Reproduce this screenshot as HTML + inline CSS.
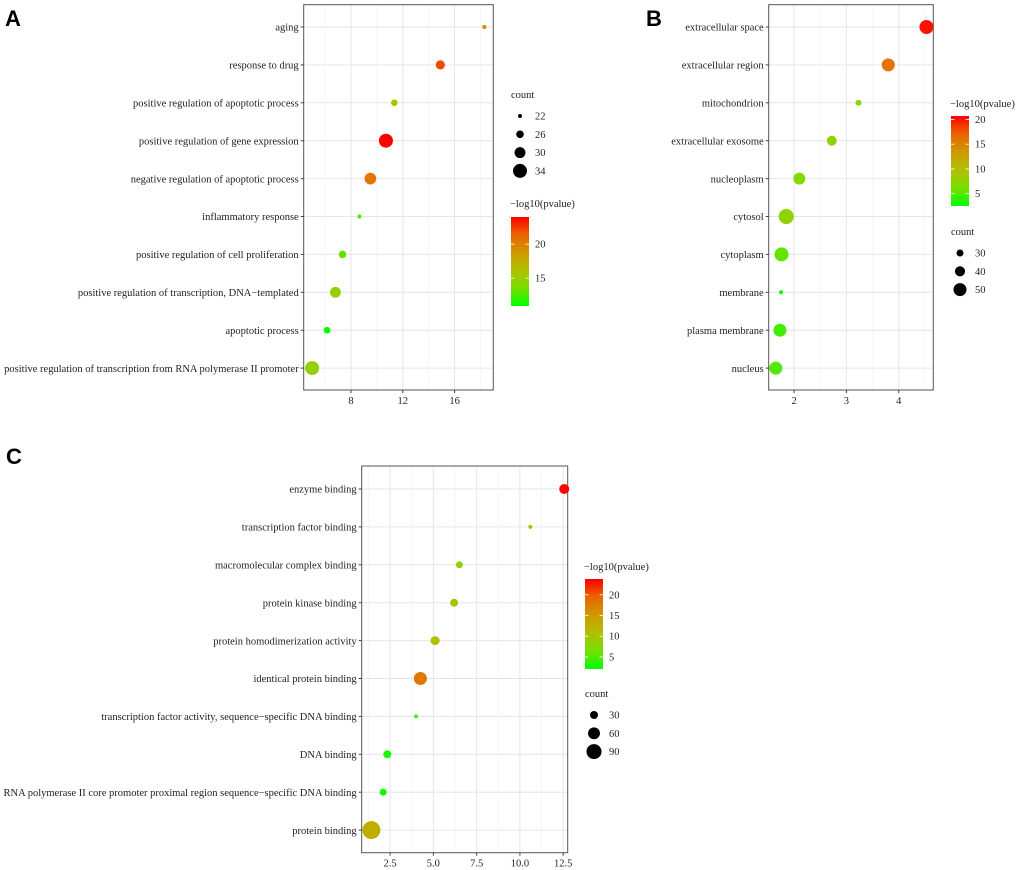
<!DOCTYPE html>
<html><head><meta charset="utf-8"><style>
body{margin:0;background:#fff;}
svg{display:block;font-family:"Liberation Serif",serif;}
</style></head><body>
<svg id="fig" width="1020" height="870" viewBox="0 0 1020 870">
<text x="5" y="26" font-family="Liberation Sans,sans-serif" font-weight="bold" font-size="22">A</text>
<text x="646" y="26" font-family="Liberation Sans,sans-serif" font-weight="bold" font-size="22">B</text>
<text x="6" y="464" font-family="Liberation Sans,sans-serif" font-weight="bold" font-size="22">C</text>
</svg>
<script>
// Panel A data (biological process)
const catsA = ["aging","response to drug","positive regulation of apoptotic process","positive regulation of gene expression","negative regulation of apoptotic process","inflammatory response","positive regulation of cell proliferation","positive regulation of transcription, DNA\u2212templated","apoptotic process","positive regulation of transcription from RNA polymerase II promoter"];
const xA = [18.3,14.9,11.35,10.7,9.5,8.65,7.35,6.8,6.15,5.0];
const countA = [22,28,25,34,31,22,26,30,25,34];
const pA = [20,22,15.5,24,20.5,12.5,13,15,11,15];
const ticksA = [8,12,16];
const sizeLegA = [22,26,30,34];
const colTicksA = [15,20];
// Panel B data (cellular component)
const catsB = ["extracellular space","extracellular region","mitochondrion","extracellular exosome","nucleoplasm","cytosol","cytoplasm","membrane","plasma membrane","nucleus"];
const xB = [4.53,3.8,3.23,2.72,2.1,1.85,1.76,1.75,1.73,1.65];
const countB = [54,50,27,39,46,58,54,22,50,50];
const pB = [20,16,7,7.5,7,7.5,5.5,2.5,4.5,5];
const ticksB = [2,3,4];
const sizeLegB = [30,40,50];
const colTicksB = [5,10,15,20];
// Panel C data (molecular function)
const catsC = ["enzyme binding","transcription factor binding","macromolecular complex binding","protein kinase binding","protein homodimerization activity","identical protein binding","transcription factor activity, sequence\u2212specific DNA binding","DNA binding","RNA polymerase II core promoter proximal region sequence\u2212specific DNA binding","protein binding"];
const xC = [12.56,10.6,6.5,6.2,5.1,4.25,4.0,2.34,2.1,1.42];
const countC = [44,10,24,30,37,70,10,30,24,125];
const pC = [23.5,9,8.5,10,11,18,5,3,2.5,13];
const ticksC = [2.5,5.0,7.5,10.0,12.5];
const sizeLegC = [30,60,90];
const colTicksC = [5,10,15,20];

const NS="http://www.w3.org/2000/svg";
const svg=document.getElementById('fig');
function mk(tag,attrs,parent){const e=document.createElementNS(NS,tag);for(const k in attrs)e.setAttribute(k,attrs[k]);(parent||svg).appendChild(e);return e;}
const stops=[[0,[0,255,0]],[0.2,[120,222,0]],[0.4,[176,192,0]],[0.6,[206,154,0]],[0.8,[234,100,0]],[1,[255,0,0]]];
function colorAt(t){t=Math.max(0,Math.min(1,t));for(let i=1;i<stops.length;i++){if(t<=stops[i][0]){const a=stops[i-1],b=stops[i];const f=(t-a[0])/(b[0]-a[0]);const c=a[1].map((v,j)=>Math.round(v+(b[1][j]-v)*f));return `rgb(${c[0]},${c[1]},${c[2]})`;}}return 'rgb(255,0,0)';}

function panel(o){
  const g=mk('g',{});
  
  
  const xs=v=>o.L+(v-o.xmin)/(o.xmax-o.xmin)*(o.R-o.L);
  const ys=i=>o.y0+i*o.dy;
  for(let i=0;i<o.ticks.length+1;i++){
    const step=o.ticks[1]-o.ticks[0];const v=o.ticks[0]-step/2+i*step;
    if(v>o.xmin&&v<o.xmax)mk('line',{x1:xs(v),x2:xs(v),y1:o.T,y2:o.B,stroke:'#f2f2f2','stroke-width':0.6},g);
  }
  o.ticks.forEach(v=>{mk('line',{x1:xs(v),x2:xs(v),y1:o.T,y2:o.B,stroke:'#e6e6e6','stroke-width':1},g);});
  o.cats.forEach((c,i)=>{mk('line',{x1:o.L,x2:o.R,y1:ys(i),y2:ys(i),stroke:'#e6e6e6','stroke-width':1},g);});
  mk('rect',{x:o.L,y:o.T,width:o.R-o.L,height:o.B-o.T,fill:'none',stroke:'#555','stroke-width':1},g);
  o.cats.forEach((c,i)=>{
    mk('line',{x1:o.L-3,x2:o.L,y1:ys(i),y2:ys(i),stroke:'#444'},g);
    const t=mk('text',{x:o.L-5,y:ys(i)+3.7,'text-anchor':'end','font-size':10.5,fill:'#222'},g);
    t.textContent=c;
    
    
  });
  o.ticks.forEach(v=>{
    mk('line',{x1:xs(v),x2:xs(v),y1:o.B,y2:o.B+3,stroke:'#444'},g);
    const t=mk('text',{x:xs(v),y:o.B+14,'text-anchor':'middle','font-size':10.5,fill:'#222'},g);
    t.textContent=o.tickFmt(v);
    
    
  });
  const r=c=>Math.max(1.5,o.a*Math.sqrt(c)-o.b);
  const cs=p=>colorAt((p-o.pmin)/(o.pmax-o.pmin));
  o.cats.forEach((c,i)=>{
    const d=mk('circle',{cx:xs(o.xv[i]),cy:ys(i),r:r(o.cnt[i]),fill:cs(o.pv[i])},g);
    
    
  });
  const leg=(kind,y)=>{
    if(kind==='count'){
      const t=mk('text',{x:o.lx,y:y,'font-size':10.5,fill:'#222'},g);t.textContent='count';
      
      
      o.sizeLeg.forEach((c,i)=>{
        const cy=y+18+i*18.3;
        const d=mk('circle',{cx:o.lx+9,cy:cy,r:r(c),fill:'#000'},g);
        
        
        const l=mk('text',{x:o.lx+24,y:cy+3.5,'font-size':10.5,fill:'#222'},g);l.textContent=c;
        
        
      });
    } else {
      const t=mk('text',{x:o.lx-1,y:y,'font-size':10.5,fill:'#222'},g);t.textContent='\u2212log10(pvalue)';
      
      
      const top=y+o.cbOff,h=o.cbH;
      const gid='grad'+o.name;
      const defs=mk('defs',{},g);const lg=mk('linearGradient',{id:gid,x1:0,y1:1,x2:0,y2:0},defs);
      stops.forEach(s=>mk('stop',{offset:s[0],'stop-color':colorAt(s[0])},lg));
      const cb=mk('rect',{x:o.lx,y:top,width:18,height:h,fill:`url(#${gid})`},g);
      
      
      o.colTicks.forEach(v=>{
        const yy=top+h-(v-o.pmin)/(o.pmax-o.pmin)*h;
        mk('line',{x1:o.lx,x2:o.lx+3.5,y1:yy,y2:yy,stroke:'#fff','stroke-width':0.8},g);
        mk('line',{x1:o.lx+14.5,x2:o.lx+18,y1:yy,y2:yy,stroke:'#fff','stroke-width':0.8},g);
        const l=mk('text',{x:o.lx+24,y:yy+3.5,'font-size':10.5,fill:'#222'},g);l.textContent=v;
        
        
      });
    }
  };
  o.legends.forEach(l=>leg(l[0],l[1]));
}
panel({name:'panel-a',cats:catsA,xv:xA,cnt:countA,pv:pA,ticks:ticksA,sizeLeg:sizeLegA,colTicks:colTicksA,
  L:303.7,R:493.3,T:4.7,B:390,xmin:4.35,xmax:18.99,y0:27,dy:37.9,a:4.39,b:18.6,pmin:10.9,pmax:24,
  tickFmt:v=>v,lx:511,cbOff:10,cbH:89,legends:[['count',98],['color',207]]});
panel({name:'panel-b',cats:catsB,xv:xB,cnt:countB,pv:pB,ticks:ticksB,sizeLeg:sizeLegB,colTicks:colTicksB,
  L:768.7,R:933.3,T:4.7,B:390,xmin:1.515,xmax:4.66,y0:27,dy:37.9,a:1.89,b:6.86,pmin:2.5,pmax:20.7,
  tickFmt:v=>v,lx:951,cbOff:9,cbH:90,legends:[['color',107],['count',235]]});
panel({name:'panel-c',cats:catsC,xv:xC,cnt:countC,pv:pC,ticks:ticksC,sizeLeg:sizeLegC,colTicks:colTicksC,
  L:361.7,R:567.7,T:466,B:852.7,xmin:0.86,xmax:12.76,y0:489,dy:37.9,a:0.873,b:0.78,pmin:2.1,pmax:23.8,
  tickFmt:v=>v.toFixed(1),lx:585,cbOff:9,cbH:90,legends:[['color',570],['count',697]]});
</script>
</body></html>
